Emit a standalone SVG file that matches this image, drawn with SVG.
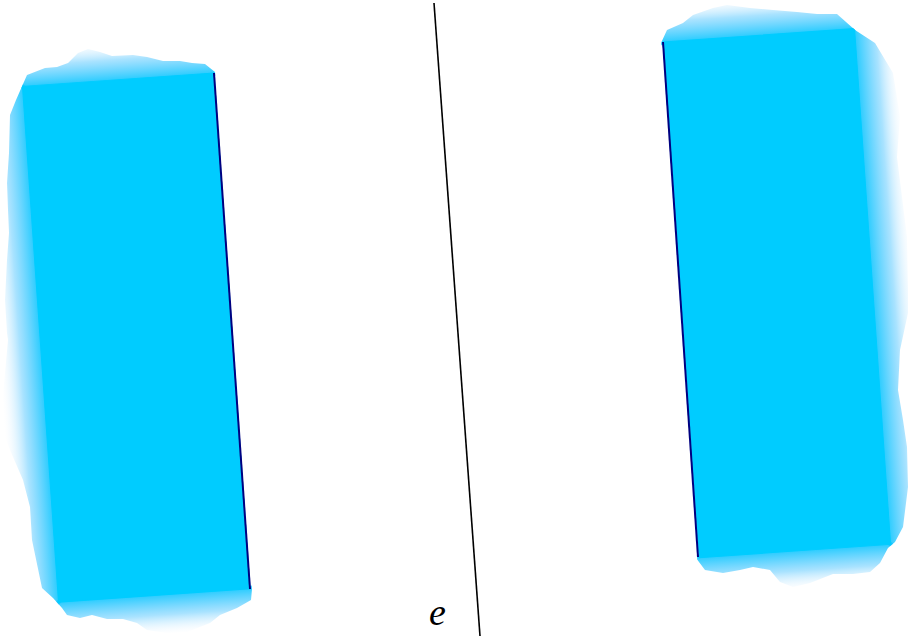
<svg xmlns="http://www.w3.org/2000/svg" width="908" height="636" viewBox="0 0 908 636">
  <defs>
    <style>
      .solid { fill: #00ccff; stroke: #00ccff; stroke-width: 1; }
      .edge { stroke: #000080; stroke-width: 2; fill: none; }
      .axis { stroke: #000000; stroke-width: 1.6; fill: none; }
      .label { font-family: "Liberation Serif", "Times New Roman", serif; font-style: italic; font-size: 38px; fill: #000000; }
      .s0 { stop-color: #10c6ff; stop-opacity: 0.88; }
      .s1 { stop-color: #40c0ff; stop-opacity: 0.45; }
      .s2 { stop-color: #e0eeff; stop-opacity: 0; }
    </style>
    <linearGradient id="fadeUp" gradientUnits="userSpaceOnUse" x1="0" y1="0" x2="0" y2="-40">
      <stop offset="0" class="s0"/><stop offset="0.5" class="s1"/><stop offset="1" class="s2"/>
    </linearGradient>
    <linearGradient id="fadeDown" gradientUnits="userSpaceOnUse" x1="0" y1="517" x2="0" y2="557">
      <stop offset="0" class="s0"/><stop offset="0.5" class="s1"/><stop offset="1" class="s2"/>
    </linearGradient>
    <linearGradient id="fadeLeft" gradientUnits="userSpaceOnUse" x1="-192" y1="0" x2="-234" y2="0">
      <stop offset="0" class="s0"/><stop offset="0.5" class="s1"/><stop offset="1" class="s2"/>
    </linearGradient>
    <linearGradient id="fadeRight" gradientUnits="userSpaceOnUse" x1="192" y1="0" x2="234" y2="0">
      <stop offset="0" class="s0"/><stop offset="0.5" class="s1"/><stop offset="1" class="s2"/>
    </linearGradient>
    <clipPath id="clipLeft">
      <polygon points="215,72 205,64 192,63 180,61 163,61 147,57 133,55 112,56 100,52 88,49 78,53 68,63 57,67 45,68 27,75 16,100 10,115 9,153 7,183 8,210 9,233 7,260 5,300 7,333 8,340 5,373 2,407 3,433 13,457 23,480 30,507 32,540 42,588 53,598 62,608 67,615 80,618 92,615 107,619 123,619 137,623 147,630 167,633 187,632 210,623 220,615 237,608 251,600 252,589"/>
    </clipPath>
    <clipPath id="clipRight">
      <polygon points="661,43 667,30 683,23 693,15 713,8 727,5 750,8 773,10 797,12 817,14 837,14 855,30 875,43 893,73 900,117 897,157 902,197 907,237 908,290 908,313 900,350 898,390 903,420 907,447 908,487 903,527 895,542 888,548 880,563 870,572 853,574 833,574 810,583 793,587 780,582 770,570 753,567 740,570 723,573 705,570 696,558"/>
    </clipPath>
  </defs>

  <g id="region-left" clip-path="url(#clipLeft)">
    <g transform="translate(214,73) rotate(-4)">
      <polygon points="2,3 -192,3 -234,-42 2,-42" fill="url(#fadeUp)"/>
      <polygon points="-189,0 -189,517 -234,559 -234,-42" fill="url(#fadeLeft)"/>
      <polygon points="-192,514 2,514 2,559 -234,559" fill="url(#fadeDown)"/>
      <rect class="solid" x="-192" y="0" width="192" height="517"/>
    </g>
  </g>

  <g id="region-right" clip-path="url(#clipRight)">
    <g transform="translate(663,42) rotate(-4)">
      <polygon points="-2,3 192,3 234,-42 -2,-42" fill="url(#fadeUp)"/>
      <polygon points="189,0 189,517 234,559 234,-42" fill="url(#fadeRight)"/>
      <polygon points="192,514 -2,514 -2,559 234,559" fill="url(#fadeDown)"/>
      <rect class="solid" x="0" y="0" width="192" height="517"/>
    </g>
  </g>

  <g id="connectors">
    <line id="edge-left" class="edge" x1="214" y1="73" x2="250" y2="589"/>
    <line id="edge-right" class="edge" x1="663" y1="42" x2="698" y2="557"/>
    <line id="axis-e" class="axis" x1="434" y1="3" x2="480" y2="636"/>
  </g>

  <g id="label-e">
    <text class="label" x="429" y="625">e</text>
  </g>
</svg>
